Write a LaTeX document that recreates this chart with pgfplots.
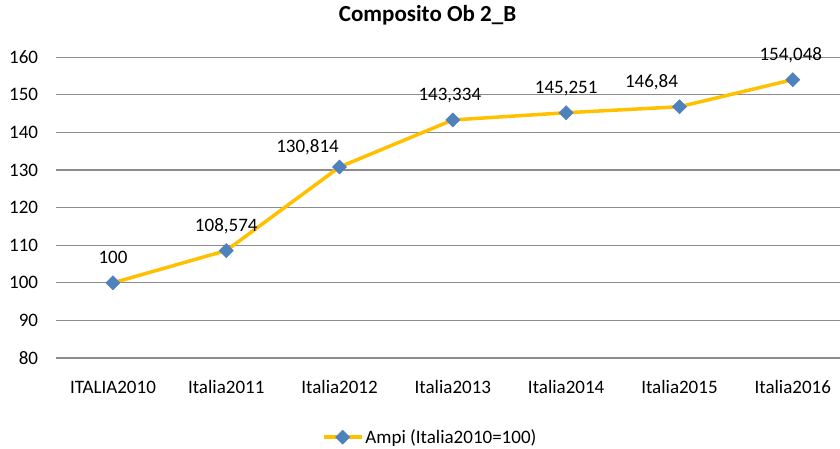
\documentclass[border=0pt]{standalone}
\usepackage{fontspec}
\setmainfont{Carlito}
\usepackage{pgfplots}
\usepackage{pgfplotstable}
\pgfplotsset{compat=1.18}
\definecolor{lineGold}{RGB}{255,192,0}
\definecolor{markBlue}{RGB}{79,129,189}
\definecolor{gridGray}{RGB}{140,140,140}
\pgfplotstableread{
x y label dx dy
0 100 100 0 0
1 108.574 108,574 0 0
2 130.814 130,814 -32 -5
3 143.334 143,334 -3 0
4 145.251 145,251 0 0
5 146.84 146,84 -28 0
6 154.048 154,048 -2 0
}\datatable
\begin{document}
\begin{tikzpicture}
\useasboundingbox (0,0) rectangle (840bp,449bp);
\begin{axis}[
  at={(56.3bp,391.7bp)}, anchor=north west,
  scale only axis, width=783.7bp, height=300.7bp,
  xmin=-0.5, xmax=6.417, ymin=80, ymax=160,
  ytick={80,90,...,160},
  xtick={0,...,6},
  xticklabels={ITALIA2010,Italia2011,Italia2012,Italia2013,Italia2014,Italia2015,Italia2016},
  ymajorgrids, major grid style={draw=gridGray, line width=1.2bp},
  axis line style={draw=none}, tick style={draw=none},
  /pgf/number format/assume math mode=true,
  tick label style={font=\fontsize{19bp}{22bp}\selectfont, inner sep=0pt},
  yticklabel style={anchor=east, xshift=-18bp},
  xticklabel style={anchor=base, yshift=-36bp},
  title={\textbf{Composito Ob 2\_B}},
  title style={at={(0.4737,1.1008)}, anchor=base, inner sep=0pt, font=\fontsize{23bp}{26bp}\selectfont},
  legend style={at={(0.477,-0.263)}, anchor=center, draw=none, fill=none,
    font=\fontsize{19bp}{22bp}\selectfont, inner sep=0pt},
  legend image code/.code={\draw[#1, mark repeat=2, mark phase=2] plot coordinates {(0bp,0bp) (19bp,0bp) (38bp,0bp)};},
  clip=false,
]
\addplot[color=lineGold, line width=3.5bp, mark=square*,
  mark size=5bp, mark options={rotate=45, fill=markBlue, draw=markBlue, line width=0.5bp},
  point meta=explicit symbolic,
  visualization depends on={\thisrow{dx}\as\dx},
  visualization depends on={\thisrow{dy}\as\dy},
  nodes near coords,
  nodes near coords style={anchor=base, inner sep=0pt, xshift=\dx bp, yshift=19bp+\dy bp,
    font=\fontsize{19bp}{22bp}\selectfont, text=black},
] table[x=x, y=y, meta=label] {\datatable};
\addlegendentry{Ampi (Italia2010=100)}
\end{axis}
\end{tikzpicture}
\end{document}
